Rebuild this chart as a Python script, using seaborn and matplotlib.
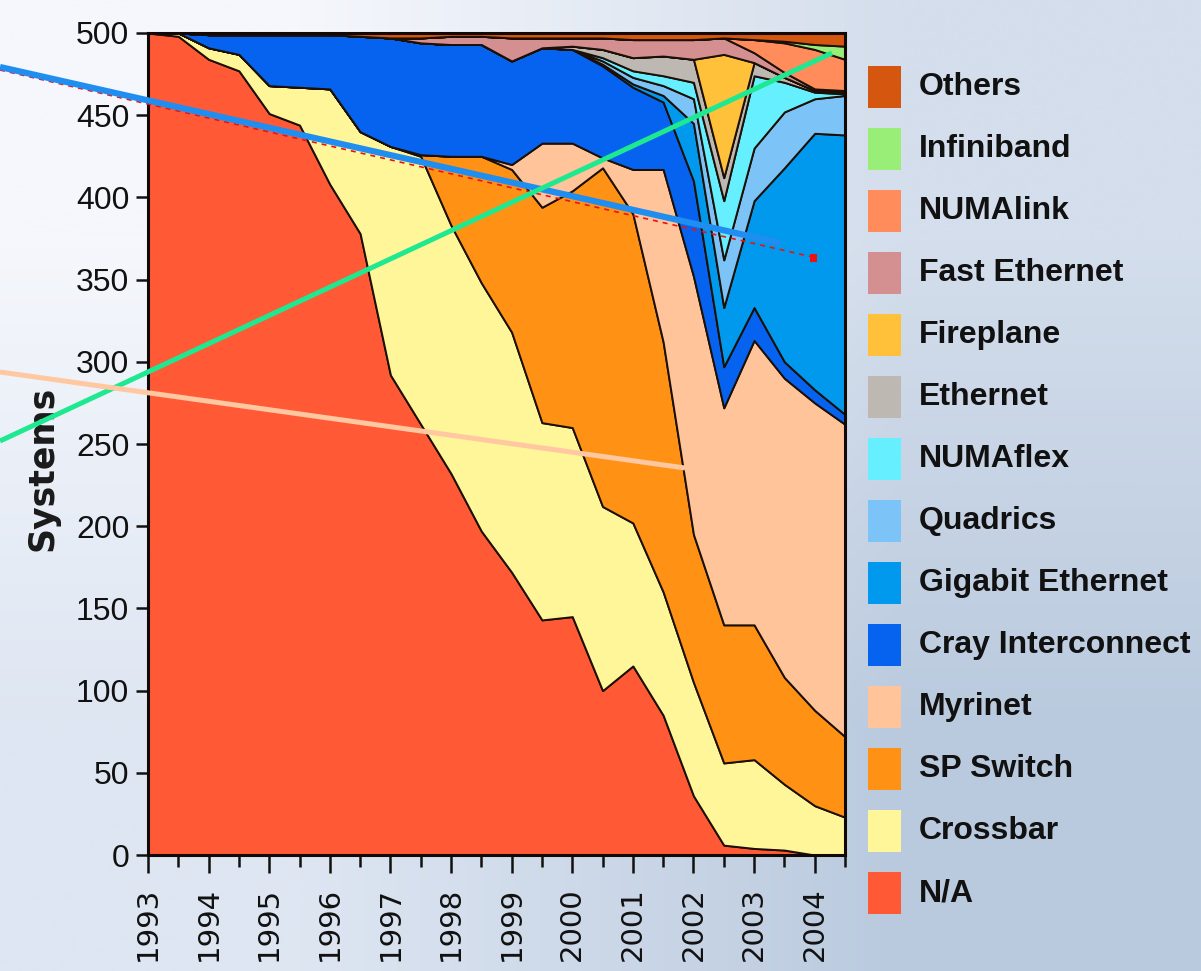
import numpy as np
import matplotlib
matplotlib.use("Agg")
import matplotlib.pyplot as plt
import seaborn as sns
from matplotlib.lines import Line2D
from matplotlib.patches import Rectangle

# ---------------- data (systems per list, TOP500 June/Nov) ----------------
periods = [1993.0, 1993.5, 1994.0, 1994.5, 1995.0, 1995.5, 1996.0, 1996.5,
           1997.0, 1997.5, 1998.0, 1998.5, 1999.0, 1999.5, 2000.0, 2000.5,
           2001.0, 2001.5, 2002.0, 2002.5, 2003.0, 2003.5, 2004.0, 2004.5]

na         = [500, 498, 484, 477, 451, 444, 408, 378, 292, 262, 232, 197,
              172, 143, 145, 100, 115, 85, 36, 6, 4, 3, 0, 0]
crossbar   = [0, 2, 7, 10, 17, 23, 58, 62, 139, 163, 151, 151,
              146, 120, 115, 112, 87, 75, 69, 50, 54, 40, 30, 23]
sp_switch  = [0, 0, 0, 0, 0, 0, 0, 0, 0, 1, 42, 77,
              99, 131, 144, 206, 188, 152, 90, 84, 82, 65, 58, 49]
myrinet    = [0, 0, 0, 0, 0, 0, 0, 0, 0, 0, 0, 0,
              3, 39, 29, 6, 27, 105, 157, 132, 173, 182, 187, 190]
cray       = [0, 0, 8, 12, 31, 32, 33, 58, 66, 68, 68, 68,
              63, 58, 57, 56, 50, 41, 58, 25, 20, 10, 8, 6]
gige       = [0, 0, 0, 0, 0, 0, 0, 0, 0, 0, 0, 0,
              0, 0, 0, 1, 2, 4, 35, 36, 65, 118, 156, 170]
quadrics   = [0, 0, 0, 0, 0, 0, 0, 0, 0, 0, 0, 0,
              0, 0, 0, 2, 4, 6, 15, 29, 32, 34, 21, 24]
numaflex   = [0, 0, 0, 0, 0, 0, 0, 0, 0, 0, 0, 0,
              0, 0, 0, 2, 4, 6, 10, 36, 44, 18, 4, 1]
ethernet   = [0, 0, 0, 0, 0, 0, 0, 0, 0, 0, 0, 0,
              0, 0, 2, 5, 8, 12, 14, 14, 8, 3, 1, 1]
fireplane  = [0, 0, 0, 0, 0, 0, 0, 0, 0, 0, 0, 0,
              0, 0, 0, 0, 0, 0, 0, 75, 0, 0, 0, 0]
fast_eth   = [0, 0, 0, 0, 0, 0, 0, 0, 0, 3, 5, 5,
              14, 6, 5, 7, 11, 10, 12, 10, 6, 3, 1, 1]
numalink   = [0, 0, 0, 0, 0, 0, 0, 0, 0, 0, 0, 0,
              0, 0, 0, 0, 0, 0, 0, 0, 8, 18, 24, 19]
infiniband = [0, 0, 0, 0, 0, 0, 0, 0, 0, 0, 0, 0,
              0, 0, 0, 0, 0, 0, 0, 0, 0, 1, 3, 8]
others     = [0, 0, 1, 1, 1, 1, 1, 2, 3, 3, 2, 2,
              3, 3, 3, 3, 4, 4, 4, 3, 4, 5, 7, 8]

labels = ["N/A", "Crossbar", "SP Switch", "Myrinet", "Cray Interconnect",
          "Gigabit Ethernet", "Quadrics", "NUMAflex", "Ethernet", "Fireplane",
          "Fast Ethernet", "NUMAlink", "Infiniband", "Others"]
series = [na, crossbar, sp_switch, myrinet, cray, gige, quadrics, numaflex,
          ethernet, fireplane, fast_eth, numalink, infiniband, others]
colors = ["#ff5a35", "#fff599", "#ff9214", "#ffc49a", "#0563f0",
          "#0099ee", "#7cc4f8", "#66f0ff", "#bdb8b2", "#ffc03a",
          "#d49090", "#ff8c5a", "#99ee77", "#d4560f"]

year_ticks = [1993, 1994, 1995, 1996, 1997, 1998, 1999, 2000, 2001, 2002, 2003, 2004]
y_ticks = [0, 50, 100, 150, 200, 250, 300, 350, 400, 450, 500]

# ---------------- figure ----------------
sns.set_theme(style="ticks")
plt.rcParams["font.family"] = ["DejaVu Sans"]

W, H = 1201, 971
fig = plt.figure(figsize=(W / 100, H / 100), dpi=100)

def fx(px):
    return px / W

def fy(py):
    return 1 - py / H

# background gradient
bg = fig.add_axes([0, 0, 1, 1], zorder=-10)
grad = np.array([[[245, 247, 252], [212, 222, 236]],
                 [[222, 230, 242], [186, 202, 222]]], dtype=float) / 255.0
bg.imshow(grad, extent=[0, 1, 0, 1], aspect="auto", interpolation="bilinear",
          origin="upper")
bg.set_axis_off()

ax = fig.add_axes([fx(148), fy(855), fx(845) - fx(148), fy(33) - fy(855)])
ax.patch.set_alpha(0)

polys = ax.stackplot(periods, *series, colors=colors, labels=labels,
                     edgecolor="#1c0f06", linewidth=1.4)

ax.set_xlim(1993, 2004.5)
ax.set_ylim(0, 500)
ax.set_xticks(year_ticks)
ax.set_xticks(periods, minor=True)
ax.set_yticks(y_ticks)

for s in ax.spines.values():
    s.set_color("#120805")
    s.set_linewidth(2.2)

ax.tick_params(axis="x", which="major", direction="out", length=13, width=1.8,
               color="#111111", pad=10, labelsize=21, labelrotation=90,
               labelcolor="#111111")
ax.tick_params(axis="x", which="minor", direction="out", length=8.5, width=1.8,
               color="#111111")
ax.tick_params(axis="y", which="major", direction="out", length=8.5, width=1.8,
               color="#111111", pad=5, labelsize=23, labelcolor="#111111")
ax.set_xticklabels([str(y) for y in year_ticks])
ax.set_yticklabels([str(v) for v in y_ticks])
for t in ax.get_yticklabels():
    t.set_fontfamily(["Liberation Sans", "DejaVu Sans"])
for t in ax.get_xticklabels():
    t.set_fontfamily(["DejaVu Sans"])

ax.set_ylabel("Systems", fontsize=25, fontweight="bold", color="#1a1a1a",
              family=["DejaVu Sans"])
ax.yaxis.set_label_coords((60 - 148) / 697, (855 - 468) / 822)

# legend drawn at the right (top entry = top layer)
legend_order = list(range(len(labels)))[::-1]
y0, step = 87, 62
for k, idx in enumerate(legend_order):
    yc = y0 + k * step
    fig.add_artist(Rectangle((fx(868), fy(yc + 21)), fx(33), fy(yc - 21) - fy(yc + 21),
                             transform=fig.transFigure, facecolor=colors[idx],
                             edgecolor="none"))
    fig.text(fx(919), fy(yc), labels[idx], ha="left", va="center",
             fontsize=23, fontweight="bold", color="#111111",
             family=["Liberation Sans", "DejaVu Sans"])

# overlay pointer lines crossing the picture
fig.add_artist(Line2D([fx(0), fx(817)], [fy(70), fy(258)], transform=fig.transFigure,
                      color="#ee1111", lw=1.2, ls=(0, (3, 3)), zorder=20))
fig.add_artist(Line2D([fx(0), fx(780)], [fy(67), fy(243)], transform=fig.transFigure,
                      color="#1f8ef0", lw=4.5, solid_capstyle="butt", zorder=21))
fig.add_artist(Rectangle((fx(810), fy(262)), fx(7), fy(254) - fy(262),
                         transform=fig.transFigure, facecolor="#ee1111",
                         edgecolor="none", zorder=21))
fig.add_artist(Line2D([fx(0), fx(832)], [fy(441), fy(53)], transform=fig.transFigure,
                      color="#1ee890", lw=3.6, solid_capstyle="butt", zorder=21))
fig.add_artist(Line2D([fx(0), fx(685)], [fy(372), fy(468)], transform=fig.transFigure,
                      color="#ffc8a0", lw=3.6, solid_capstyle="butt", zorder=21))

fig.savefig("out.png", dpi=100)
